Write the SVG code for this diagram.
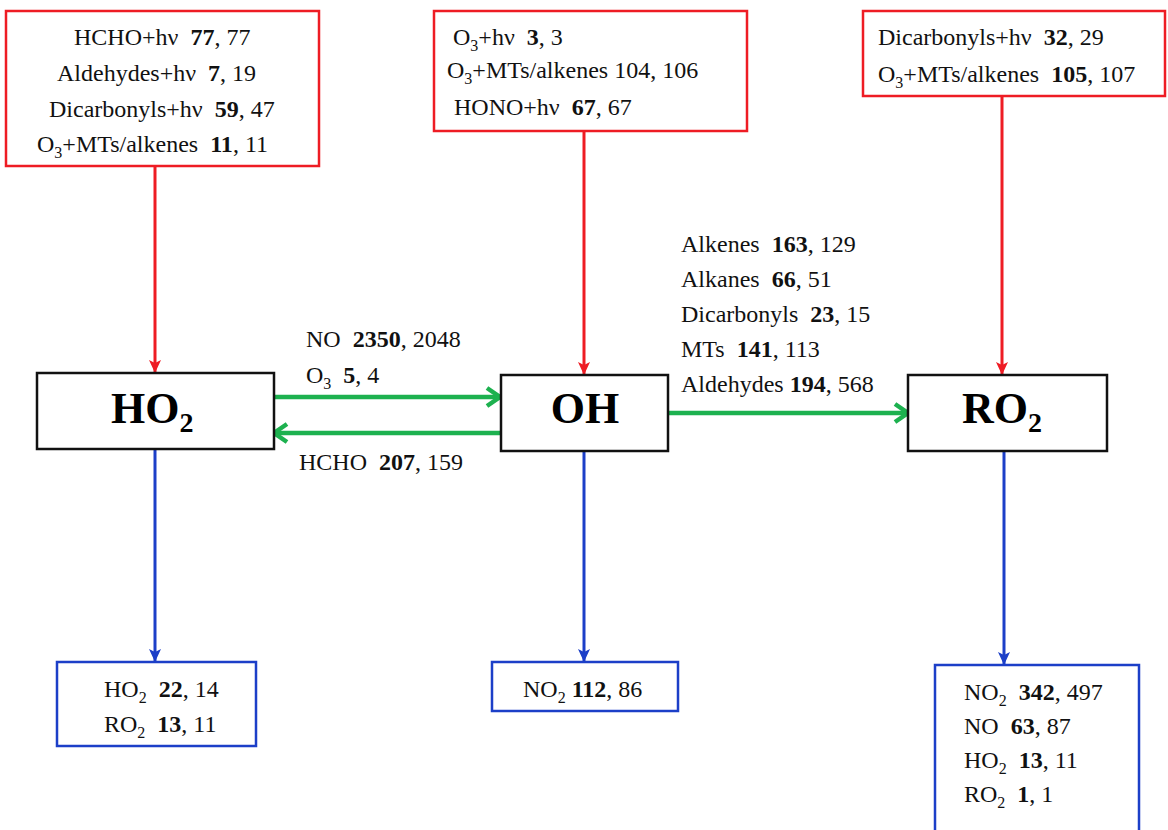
<svg xmlns="http://www.w3.org/2000/svg" width="1168" height="830" viewBox="0 0 1168 830">
<style>
text{font-family:"Liberation Serif","Times New Roman",serif;font-size:24px;fill:#111;white-space:pre}
.b{font-weight:bold}
.s{font-size:16px}
.big{font-size:44px;font-weight:bold;fill:#000}
.bigs{font-size:28px}
.rb{fill:#fff;stroke:#ee1c24;stroke-width:2.5}
.bb{fill:#fff;stroke:#1c3fc8;stroke-width:2.5}
.kb{fill:#fff;stroke:#111;stroke-width:2.5}
.red{stroke:#ee1c24;stroke-width:3;fill:none}
.blue{stroke:#1c3fc8;stroke-width:3;fill:none}
.green{stroke:#1db14f;stroke-width:4.5;fill:none}
</style>
<defs>
<marker id="ar" markerUnits="userSpaceOnUse" markerWidth="16" markerHeight="14" refX="13" refY="6" orient="auto" viewBox="0 0 16 14">
<path d="M0,0 L13,6 L0,12 L3,6 z" fill="#ee1c24"/>
</marker>
<marker id="ab" markerUnits="userSpaceOnUse" markerWidth="16" markerHeight="14" refX="13" refY="6" orient="auto" viewBox="0 0 16 14">
<path d="M0,0 L13,6 L0,12 L3,6 z" fill="#1c3fc8"/>
</marker>
<marker id="ag" markerUnits="userSpaceOnUse" markerWidth="20" markerHeight="24" refX="16" refY="12" orient="auto" viewBox="0 0 20 24">
<path d="M3,3 L16,12 L3,21" fill="none" stroke="#1db14f" stroke-width="4.5"/>
</marker>
</defs>

<g id="connectors">
<line class="red" x1="155" y1="166" x2="155" y2="373" marker-end="url(#ar)"/>
<line class="red" x1="584" y1="131" x2="584" y2="375" marker-end="url(#ar)"/>
<line class="red" x1="1002" y1="96" x2="1002" y2="375" marker-end="url(#ar)"/>
<line class="blue" x1="155" y1="449" x2="155" y2="662" marker-end="url(#ab)"/>
<line class="blue" x1="584" y1="451" x2="584" y2="662" marker-end="url(#ab)"/>
<line class="blue" x1="1004" y1="451" x2="1004" y2="665" marker-end="url(#ab)"/>
<line class="green" x1="274" y1="397" x2="500" y2="397" marker-end="url(#ag)"/>
<line class="green" x1="500" y1="433" x2="274" y2="433" marker-end="url(#ag)"/>
<line class="green" x1="668" y1="413" x2="908" y2="413" marker-end="url(#ag)"/>
<text x="306" y="347">NO  <tspan class="b">2350</tspan>, 2048</text>
<text x="306" y="383">O<tspan class="s" dy="6">3</tspan><tspan dy="-6">  </tspan><tspan class="b">5</tspan>, 4</text>
<text x="299" y="470">HCHO  <tspan class="b">207</tspan>, 159</text>
<text x="681" y="252">Alkenes  <tspan class="b">163</tspan>, 129</text>
<text x="681" y="287">Alkanes  <tspan class="b">66</tspan>, 51</text>
<text x="681" y="322">Dicarbonyls  <tspan class="b">23</tspan>, 15</text>
<text x="681" y="357">MTs  <tspan class="b">141</tspan>, 113</text>
<text x="681" y="392">Aldehydes <tspan class="b">194</tspan>, 568</text>
</g>

<g id="src-ho2">
<rect class="rb" x="6" y="11" width="313" height="155"/>
<text x="74" y="45">HCHO+hν  <tspan class="b">77</tspan>, 77</text>
<text x="57" y="81">Aldehydes+hν  <tspan class="b">7</tspan>, 19</text>
<text x="49" y="117">Dicarbonyls+hν  <tspan class="b">59</tspan>, 47</text>
<text x="37" y="152">O<tspan class="s" dy="6">3</tspan><tspan dy="-6">+MTs/alkenes  </tspan><tspan class="b">11</tspan>, 11</text>
</g>

<g id="src-oh">
<rect class="rb" x="434" y="11" width="313" height="120"/>
<text x="453" y="45">O<tspan class="s" dy="6">3</tspan><tspan dy="-6">+hν  </tspan><tspan class="b">3</tspan>, 3</text>
<text x="447" y="78">O<tspan class="s" dy="6">3</tspan><tspan dy="-6">+MTs/alkenes 104, 106</tspan></text>
<text x="454" y="115">HONO+hν  <tspan class="b">67</tspan>, 67</text>
</g>

<g id="src-ro2">
<rect class="rb" x="863" y="11" width="302" height="85"/>
<text x="878" y="45">Dicarbonyls+hν  <tspan class="b">32</tspan>, 29</text>
<text x="878" y="82">O<tspan class="s" dy="6">3</tspan><tspan dy="-6">+MTs/alkenes  </tspan><tspan class="b">105</tspan>, 107</text>
</g>

<g id="ho2">
<rect class="kb" x="37" y="373" width="237" height="76"/>
<text class="big" x="111" y="423">HO<tspan class="bigs" dy="9">2</tspan></text>
</g>

<g id="oh">
<rect class="kb" x="501" y="375" width="167" height="76"/>
<text class="big" x="585" y="423" text-anchor="middle">OH</text>
</g>

<g id="ro2">
<rect class="kb" x="908" y="375" width="199" height="76"/>
<text class="big" x="962" y="423">RO<tspan class="bigs" dy="9">2</tspan></text>
</g>

<g id="sink-ho2">
<rect class="bb" x="57" y="662" width="199" height="84"/>
<text x="104" y="697">HO<tspan class="s" dy="6">2</tspan><tspan dy="-6">  </tspan><tspan class="b">22</tspan>, 14</text>
<text x="104" y="732">RO<tspan class="s" dy="6">2</tspan><tspan dy="-6">  </tspan><tspan class="b">13</tspan>, 11</text>
</g>

<g id="sink-oh">
<rect class="bb" x="492" y="662" width="186" height="49"/>
<text x="523" y="697">NO<tspan class="s" dy="6">2</tspan><tspan dy="-6"> </tspan><tspan class="b">112</tspan>, 86</text>
</g>

<g id="sink-ro2">
<rect class="bb" x="935" y="665" width="204" height="180"/>
<text x="964" y="700">NO<tspan class="s" dy="6">2</tspan><tspan dy="-6">  </tspan><tspan class="b">342</tspan>, 497</text>
<text x="964" y="734">NO  <tspan class="b">63</tspan>, 87</text>
<text x="964" y="768">HO<tspan class="s" dy="6">2</tspan><tspan dy="-6">  </tspan><tspan class="b">13</tspan>, 11</text>
<text x="964" y="802">RO<tspan class="s" dy="6">2</tspan><tspan dy="-6">  </tspan><tspan class="b">1</tspan>, 1</text>
</g>
</svg>
